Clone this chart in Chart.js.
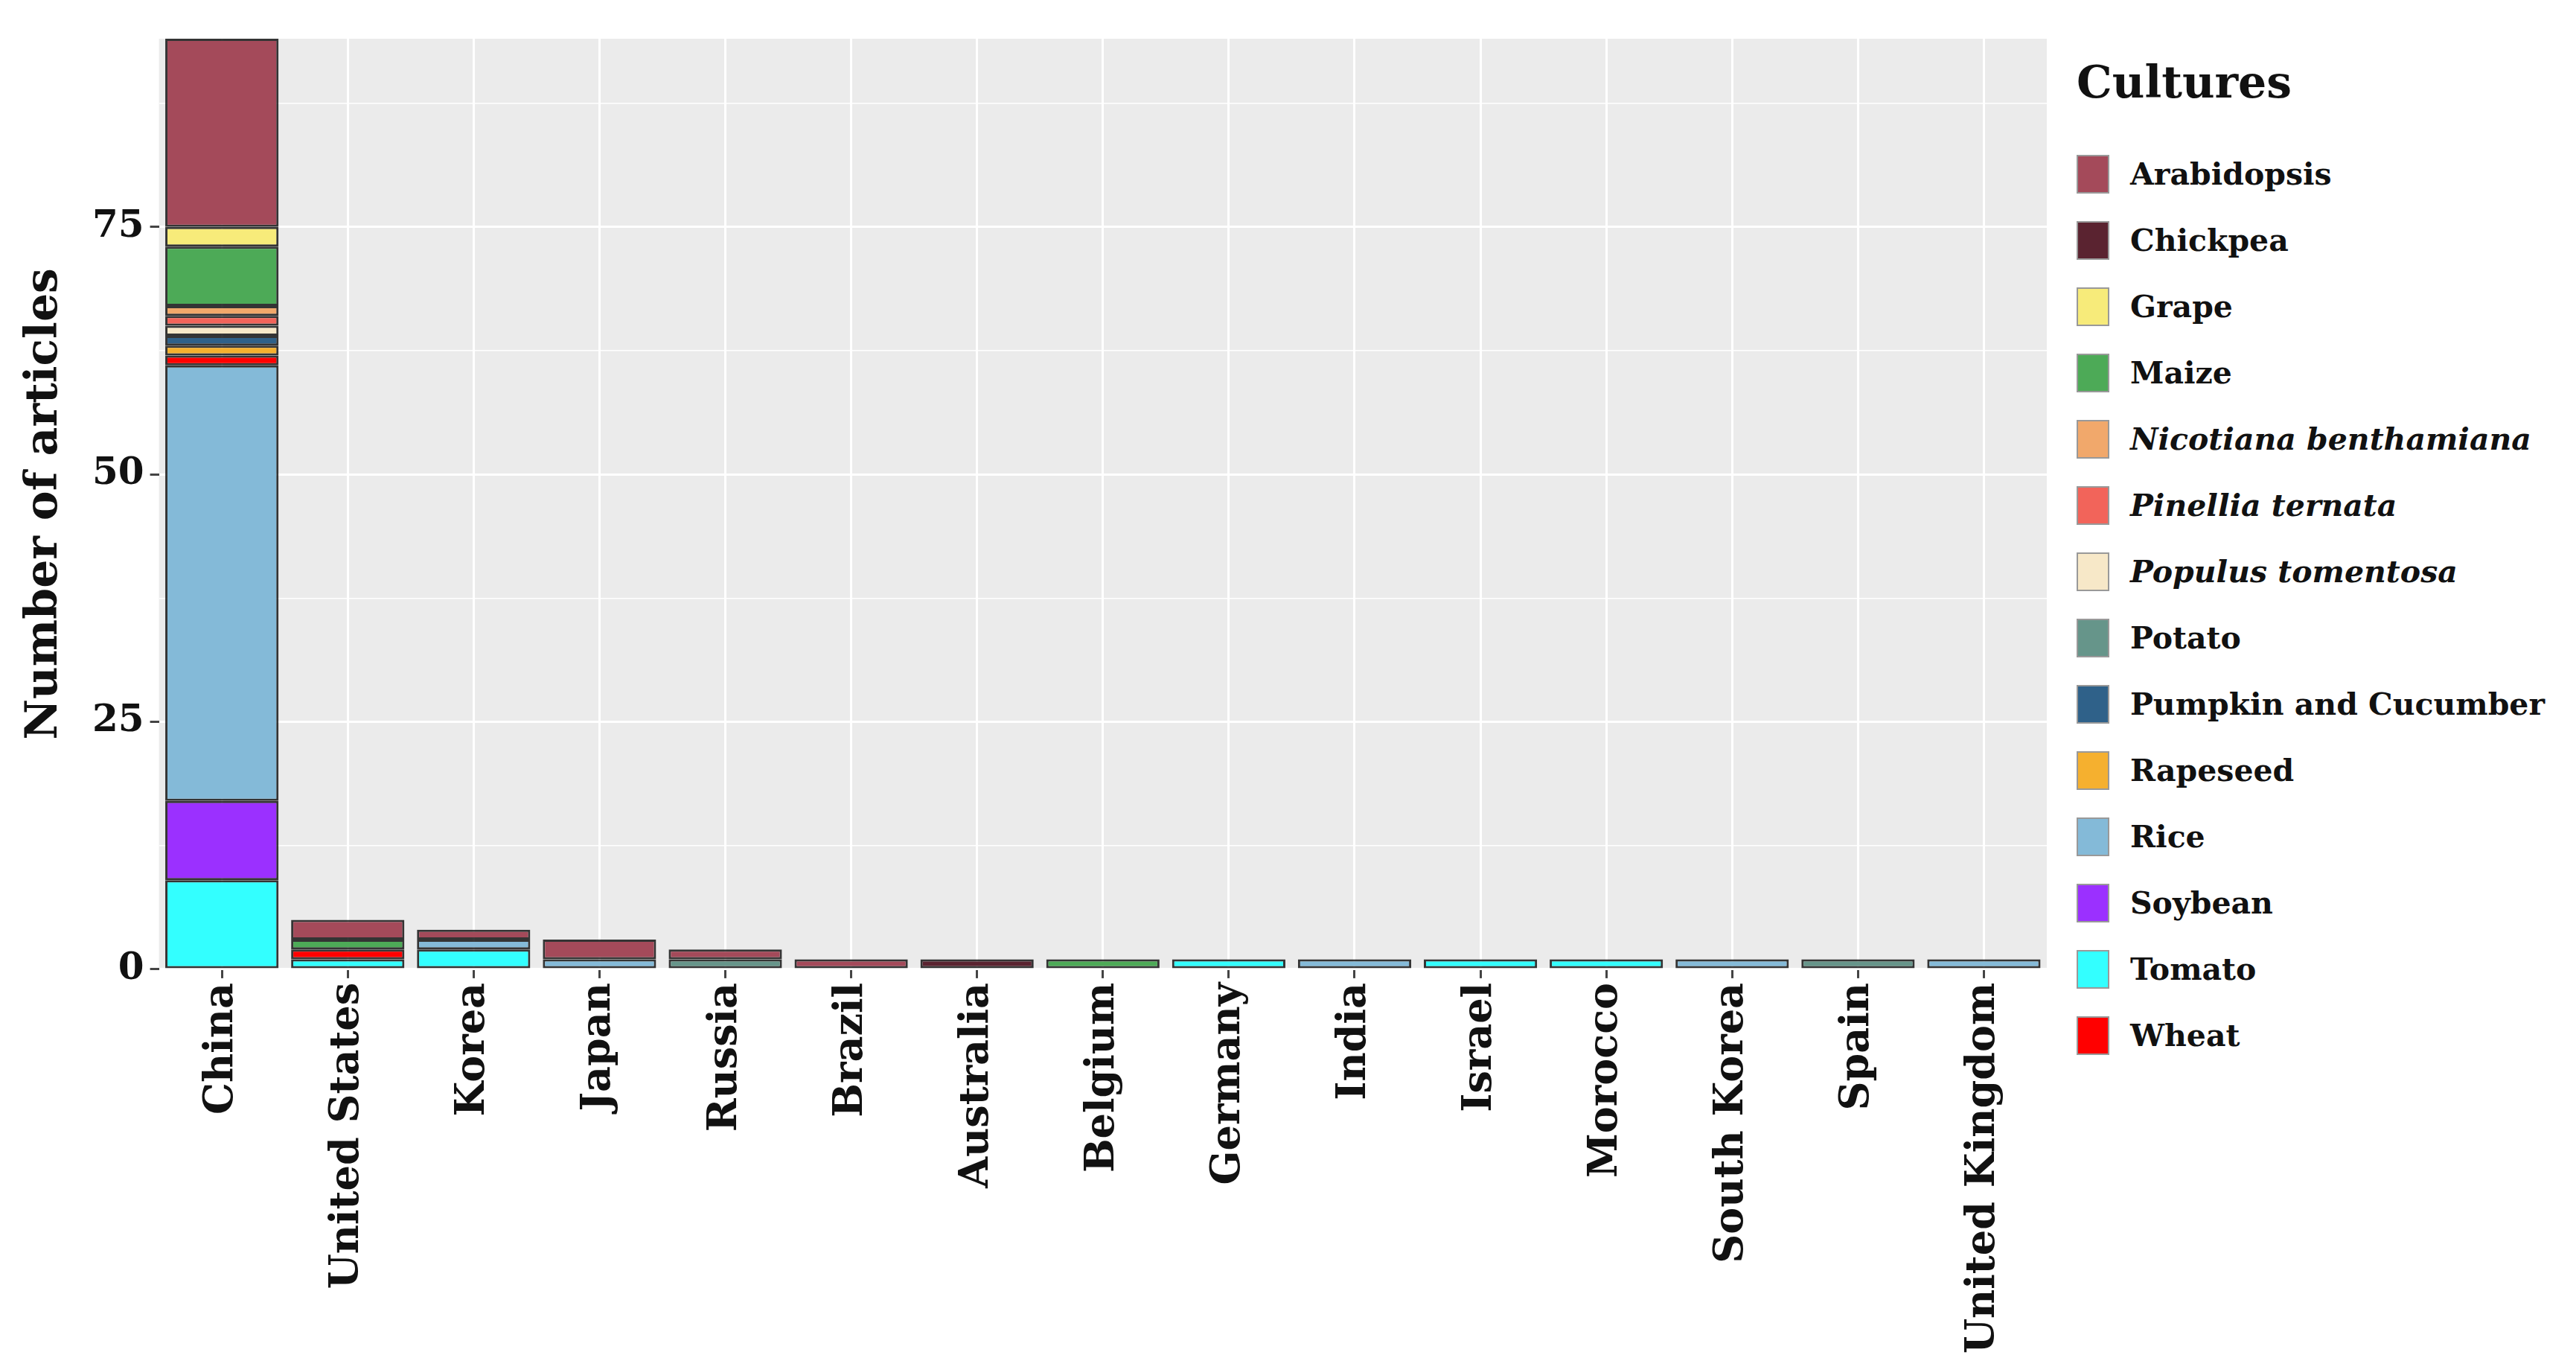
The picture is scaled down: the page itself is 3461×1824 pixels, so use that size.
<!DOCTYPE html>
<html><head><meta charset="utf-8">
<script src="https://cdn.jsdelivr.net/npm/chart.js@4"></script>
<style>
body{margin:0;background:#fff;width:3461px;height:1824px;overflow:hidden;font-family:"DejaVu Serif","Liberation Serif",serif;}
#wrap{position:absolute;left:0;top:0;width:2770px;height:1824px;}
#legend{position:absolute;left:2790px;top:75px;font-weight:bold;color:#111;}
#legend h2{margin:0 0 44px 0;font-size:60px;}
.it{display:flex;align-items:center;height:89px;font-size:41px;}
.sw{width:44px;height:52px;border:2px solid #999;margin-right:28px;box-sizing:border-box;}
</style></head><body>
<div id="wrap"><canvas id="c" width="2770" height="1824"></canvas></div>
<div id="legend"><h2>Cultures</h2></div>
<script>
const countries=["China","United States","Korea","Japan","Russia","Brazil","Australia","Belgium","Germany","India","Israel","Morocco","South Korea","Spain","United Kingdom"];
const cultures=["Arabidopsis","Chickpea","Grape","Maize","Nicotiana benthamiana","Pinellia ternata","Populus tomentosa","Potato","Pumpkin and Cucumber","Rapeseed","Rice","Soybean","Tomato","Wheat"];
const italic=[false,false,false,false,true,true,true,false,false,false,false,false,false,false];
const colors=["#A44A5A","#5A2330","#F7EB7A","#4DAA57","#F1A86B","#F2645A","#F7E8C8","#66958A","#2F6189","#F5B02F","#84BAD8","#9B30FF","#33FFFF","#FF0000"];
const Arabidopsis=[19,2,1,2,1,1,0,0,0,0,0,0,0,0,0];
const Chickpea=[0,0,0,0,0,0,1,0,0,0,0,0,0,0,0];
const Grape=[2,0,0,0,0,0,0,0,0,0,0,0,0,0,0];
const Maize=[6,1,0,0,0,0,0,1,0,0,0,0,0,0,0];
const Nicotiana=[1,0,0,0,0,0,0,0,0,0,0,0,0,0,0];
const Pinellia=[1,0,0,0,0,0,0,0,0,0,0,0,0,0,0];
const Populus=[1,0,0,0,0,0,0,0,0,0,0,0,0,0,0];
const Potato=[0,0,0,0,1,0,0,0,0,0,0,0,0,1,0];
const Pumpkin=[1,0,0,0,0,0,0,0,0,0,0,0,0,0,0];
const Rapeseed=[1,0,0,0,0,0,0,0,0,0,0,0,0,0,0];
const Rice=[44,0,1,1,0,0,0,0,0,1,0,0,1,0,1];
const Soybean=[8,0,0,0,0,0,0,0,0,0,0,0,0,0,0];
const Tomato=[9,1,2,0,0,0,0,0,1,0,1,1,0,0,0];
const Wheat=[1,1,0,0,0,0,0,0,0,0,0,0,0,0,0];
const values=[Arabidopsis,Chickpea,Grape,Maize,Nicotiana,Pinellia,Populus,Potato,Pumpkin,Rapeseed,Rice,Soybean,Tomato,Wheat];
const yTicks=[0,25,50,75];
const stackOrder=[12,11,10,13,9,8,7,6,5,4,3,2,1,0];

const leg=document.getElementById('legend');
cultures.forEach((c,i)=>{const d=document.createElement('div');d.className='it';
 d.innerHTML='<div class="sw" style="background:'+colors[i]+'"></div><span style="font-style:'+(italic[i]?'italic':'normal')+'">'+c+'</span>';leg.appendChild(d);});

const datasets=stackOrder.map((i,k)=>({label:cultures[i],data:values[i].map(v=>v||null),backgroundColor:colors[i],
 borderColor:'rgba(20,20,20,0.85)',borderWidth:3,borderSkipped:false,categoryPercentage:0.9,barPercentage:1}));

const bg={id:'bg',beforeDraw(ch){const a=ch.chartArea,x=ch.ctx;x.save();x.fillStyle='#EBEBEB';x.fillRect(a.left,a.top,a.right-a.left,a.bottom-a.top);x.restore();}};
new Chart(document.getElementById('c'),{type:'bar',data:{labels:countries,datasets},
 options:{responsive:false,animation:false,devicePixelRatio:1,
  layout:{padding:{top:52,left:20,right:20,bottom:0}},
  plugins:{legend:{display:false},tooltip:{enabled:false}},
  scales:{
   x:{stacked:true,offset:true,grid:{color:'#FFFFFF',lineWidth:3,offset:false,drawTicks:true,tickColor:'#444',tickLength:12,tickWidth:3},border:{display:false},
      ticks:{color:'#111',font:{family:'DejaVu Serif',size:54,weight:'bold'},maxRotation:90,minRotation:90,padding:6}},
   y:{stacked:true,min:0,max:94,afterBuildTicks(s){const t=[];for(let v=0;v<=87.5;v+=12.5)t.push({value:v});s.ticks=t;},
      grid:{color:'#FFFFFF',lineWidth:c=>(c.tick&&yTicks.includes(c.tick.value))?3:1.5,tickColor:c=>(c.tick&&yTicks.includes(c.tick.value))?'#444':'rgba(0,0,0,0)',tickLength:12,tickWidth:3},border:{display:false},
      ticks:{color:'#111',font:{family:'DejaVu Serif',size:50,weight:'bold'},padding:8,callback:v=>yTicks.includes(v)?String(v):''},
      title:{display:true,text:'Number of articles',color:'#111',font:{family:'DejaVu Serif',size:60,weight:'bold'},padding:{bottom:20}}}
  }},plugins:[bg]});
</script>
</body></html>
